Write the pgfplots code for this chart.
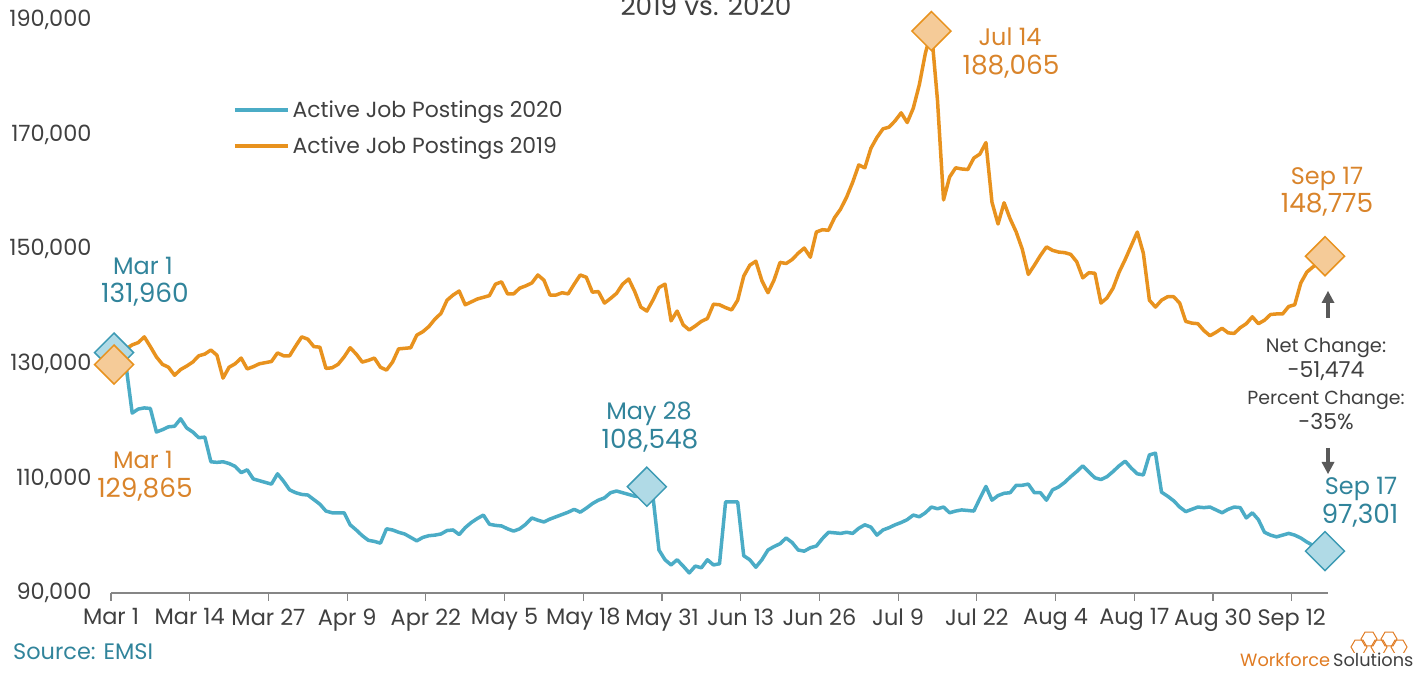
\documentclass[border=0pt]{standalone}
\usepackage{pgfplots}
\pgfplotsset{compat=1.18}
\usepackage{fontspec}
\setmainfont{Poppins}
\definecolor{tealline}{HTML}{4BACC6}
\definecolor{tealtext}{HTML}{31849B}
\definecolor{tealfill}{HTML}{B0DAE6}
\definecolor{tealedge}{HTML}{3C9AB4}
\definecolor{orgline}{HTML}{E8921E}
\definecolor{orgtext}{HTML}{D9842B}
\definecolor{orgfill}{HTML}{F5CB98}
\definecolor{txtgray}{HTML}{404040}
\definecolor{axgray}{HTML}{868686}
\definecolor{arrgray}{HTML}{595959}
\definecolor{logoorg}{HTML}{E07B22}

\begin{document}
\begin{tikzpicture}[x=1bp,y=1bp]
\useasboundingbox (0,0) rectangle (1424,673);
\begin{axis}[
  at={(111bp,80bp)}, anchor=south west,
  width=1217bp, height=573bp, scale only axis,
  xmin=-0.5, xmax=200.5, ymin=90000, ymax=190000,
  clip=false,
  axis x line*=bottom, axis y line*=left,
  y axis line style={draw=none},
  x axis line style={draw=axgray, line width=1.2bp},
  xtick={-0.5,12.5,25.5,38.5,51.5,64.5,77.5,90.5,103.5,116.5,129.5,142.5,155.5,168.5,181.5,194.5},
  xticklabels={Mar 1,Mar 14,Mar 27,Apr 9,Apr 22,May 5,May 18,May 31,Jun 13,Jun 26,Jul 9,Jul 22,Aug 4,Aug 17,Aug 30,Sep 12},
  ytick={90000,110000,130000,150000,170000,190000},
  yticklabels={{90,000},{110,000},{130,000},{150,000},{170,000},{190,000}},
  scaled y ticks=false, scaled x ticks=false,
  tick align=outside,
  major tick length=8bp,
  x tick style={draw=axgray, line width=1.2bp},
  y tick style={draw=none},
  tick label style={font=\fontsize{22.5}{26}\selectfont, text=txtgray},
  yticklabel style={xshift=-8bp},
  xticklabel style={yshift=-4bp},
  legend style={at={(0.1002,0.859)}, anchor=north west, draw=none, fill=none,
    font=\fontsize{22}{26}\selectfont, text=txtgray, inner sep=0pt, row sep=18bp,
    nodes={inner xsep=3bp, inner ysep=0bp},
    /tikz/every even column/.append style={column sep=0bp}},
  legend cell align=left,
  legend image code/.code={\draw[#1, line width=3.5bp] (0bp,0bp) -- (53bp,0bp);},
]
\addplot[tealline, line width=3.5bp, line join=round] coordinates {
(0,131960)(1,130800)(2,129500)(3,121400)(4,122100)(5,122300)(6,122200)(7,118100)(8,118500)(9,119000)
(10,119100)(11,120400)(12,118800)(13,118100)(14,117100)(15,117200)(16,112900)(17,112800)(18,112900)(19,112600)
(20,112100)(21,111000)(22,111500)(23,109900)(24,109600)(25,109300)(26,109000)(27,110800)(28,109500)(29,108000)
(30,107500)(31,107200)(32,107100)(33,106300)(34,105500)(35,104300)(36,104000)(37,104000)(38,104000)(39,101900)
(40,101000)(41,100000)(42,99200)(43,99000)(44,98700)(45,101200)(46,101000)(47,100600)(48,100300)(49,99700)
(50,99100)(51,99700)(52,100000)(53,100100)(54,100300)(55,100900)(56,101000)(57,100200)(58,101400)(59,102300)
(60,103000)(61,103600)(62,102000)(63,101800)(64,101700)(65,101200)(66,100800)(67,101200)(68,102000)(69,103100)
(70,102700)(71,102400)(72,102900)(73,103300)(74,103700)(75,104100)(76,104600)(77,104100)(78,104800)(79,105600)
(80,106200)(81,106600)(82,107500)(83,107800)(84,107500)(85,107200)(86,106900)(87,106800)(88,108548)(89,106900)
(90,97500)(91,95800)(92,94900)(93,95800)(94,94700)(95,93500)(96,94700)(97,94400)(98,95800)(99,94900)
(100,95100)(101,105900)(102,105900)(103,105900)(104,96500)(105,95800)(106,94500)(107,95800)(108,97500)(109,98100)
(110,98600)(111,99600)(112,98800)(113,97500)(114,97300)(115,97900)(116,98200)(117,99500)(118,100600)(119,100500)
(120,100400)(121,100600)(122,100400)(123,101300)(124,101900)(125,101500)(126,100100)(127,101000)(128,101400)(129,101900)
(130,102300)(131,102800)(132,103600)(133,103300)(134,104000)(135,105000)(136,104700)(137,105000)(138,104000)(139,104300)
(140,104500)(141,104400)(142,104300)(143,106500)(144,108600)(145,106200)(146,107000)(147,107400)(148,107500)(149,108800)
(150,108800)(151,109000)(152,107500)(153,107500)(154,106200)(155,108000)(156,108500)(157,109300)(158,110300)(159,111200)
(160,112200)(161,111100)(162,110100)(163,109800)(164,110300)(165,111200)(166,112200)(167,113000)(168,111800)(169,110800)
(170,110600)(171,114100)(172,114400)(173,107600)(174,106900)(175,106100)(176,105000)(177,104200)(178,104600)(179,105000)
(180,104900)(181,105000)(182,104500)(183,104000)(184,104600)(185,105000)(186,104900)(187,103100)(188,104000)(189,102800)
(190,100600)(191,100100)(192,99800)(193,100100)(194,100400)(195,100100)(196,99600)(197,98900)(198,98300)(199,97800)
(200,97301)};
\addlegendentry{Active Job Postings 2020}
\addplot[orgline, line width=3.5bp, line join=round] coordinates {
(0,129865)(1,131500)(2,132600)(3,133300)(4,133700)(5,134700)(6,133000)(7,131200)(8,129900)(9,129400)
(10,128000)(11,129000)(12,129600)(13,130300)(14,131400)(15,131700)(16,132400)(17,131500)(18,127500)(19,129400)
(20,130000)(21,131000)(22,129100)(23,129500)(24,130000)(25,130200)(26,130400)(27,131900)(28,131400)(29,131400)
(30,133100)(31,134700)(32,134300)(33,133000)(34,132900)(35,129200)(36,129300)(37,129900)(38,131200)(39,132800)
(40,131700)(41,130300)(42,130600)(43,131000)(44,129400)(45,128900)(46,130300)(47,132600)(48,132700)(49,132800)
(50,135000)(51,135600)(52,136500)(53,137800)(54,138800)(55,141100)(56,142000)(57,142700)(58,140300)(59,140800)
(60,141300)(61,141600)(62,141900)(63,143900)(64,144300)(65,142200)(66,142200)(67,143200)(68,143600)(69,144100)
(70,145500)(71,144600)(72,142000)(73,142000)(74,142400)(75,142200)(76,143900)(77,145500)(78,145100)(79,142500)
(80,142600)(81,140600)(82,141400)(83,142300)(84,143900)(85,144800)(86,142600)(87,139900)(88,139200)(89,141100)
(90,143300)(91,143900)(92,137500)(93,139200)(94,136800)(95,135900)(96,136600)(97,137400)(98,137900)(99,140400)
(100,140300)(101,139800)(102,139400)(103,141100)(104,145300)(105,147200)(106,147900)(107,144500)(108,142400)(109,144600)
(110,147700)(111,147500)(112,148200)(113,149300)(114,150200)(115,148600)(116,153000)(117,153400)(118,153300)(119,155500)
(120,157000)(121,159100)(122,161700)(123,164700)(124,164200)(125,167600)(126,169500)(127,171000)(128,171300)(129,172400)
(130,173800)(131,172100)(132,174600)(133,178700)(134,184200)(135,188065)(136,176000)(137,158600)(138,162600)(139,164200)
(140,164000)(141,163900)(142,165900)(143,166600)(144,168600)(145,158200)(146,154400)(147,158100)(148,155300)(149,153000)
(150,150000)(151,145600)(152,147200)(153,148900)(154,150400)(155,149800)(156,149500)(157,149400)(158,149100)(159,147800)
(160,145000)(161,145900)(162,145800)(163,140600)(164,141500)(165,143200)(166,146000)(167,148200)(168,150600)(169,153000)
(170,149300)(171,141100)(172,139900)(173,141100)(174,141700)(175,141700)(176,140600)(177,137400)(178,137100)(179,137000)
(180,135800)(181,134900)(182,135500)(183,136200)(184,135400)(185,135300)(186,136300)(187,137000)(188,138200)(189,137000)
(190,137600)(191,138600)(192,138700)(193,138700)(194,140000)(195,140300)(196,144100)(197,146000)(198,146900)(199,147600)
(200,148775)};
\addlegendentry{Active Job Postings 2019}
\addplot[forget plot, only marks, mark=square*, mark size=13.8bp,
  mark options={rotate=45, fill=tealfill, draw=tealedge, line width=1.5bp}]
  coordinates {(0,131960)(88,108548)(200,97301)};
\addplot[forget plot, only marks, mark=square*, mark size=13.8bp,
  mark options={rotate=45, fill=orgfill, draw=orgline, line width=1.5bp}]
  coordinates {(0,129865)(135,188065)(200,148775)};
\end{axis}

% title (cut at top)
\node[anchor=base, text=txtgray, font=\fontsize{26.5}{30}\selectfont, inner sep=0pt] at (706,657) {2019 vs. 2020};

% annotations
\begin{scope}[every node/.style={anchor=base, inner sep=0pt}]
\begin{scope}[every node/.append style={font=\fontsize{24}{28}\selectfont}]
\node[text=tealtext] at (143,398) {Mar 1};
\node[text=orgtext] at (143,204) {Mar 1};
\node[text=tealtext] at (649,253) {May 28};
\node[text=orgtext] at (1010,627) {Jul 14};
\node[text=orgtext] at (1327,488) {Sep 17};
\node[text=tealtext] at (1361,178) {Sep 17};
\end{scope}
\begin{scope}[every node/.append style={font=\fontsize{26.5}{30}\selectfont}]
\node[text=tealtext] at (145,370) {131,960};
\node[text=orgtext] at (145,175) {129,865};
\node[text=tealtext] at (650,224) {108,548};
\node[text=orgtext] at (1011,598) {188,065};
\node[text=orgtext] at (1327,460) {148,775};
\node[text=tealtext] at (1360,149) {97,301};
\end{scope}
\end{scope}
\begin{scope}[every node/.style={anchor=base, inner sep=0pt, text=txtgray}]
\node[font=\fontsize{19.5}{24}\selectfont] at (1326,320) {Net Change:};
\node[font=\fontsize{22}{26}\selectfont] at (1326,295) {-51,474};
\node[font=\fontsize{19}{24}\selectfont] at (1326,268) {Percent Change:};
\node[font=\fontsize{22}{26}\selectfont] at (1326,243) {-35\%};
\end{scope}
% arrows
\draw[arrgray, line width=4bp] (1328,355) -- (1328,370);
\fill[arrgray] (1321.5,370) -- (1334.5,370) -- (1328,382) -- cycle;
\draw[arrgray, line width=4bp] (1328,225) -- (1328,211);
\fill[arrgray] (1321.5,211) -- (1334.5,211) -- (1328,199) -- cycle;

% source
\node[anchor=base west, inner sep=0pt, text=tealtext, font=\fontsize{22.5}{26}\selectfont] at (13,13) {Source: EMSI};

% logo
\begin{scope}[logoorg, line width=1bp]
\foreach \cx/\cy in {1369/34, 1389/34, 1359/26, 1379/26, 1399/26}{
  \draw[shift={(\cx,\cy)}] (0:8)--(60:8)--(120:8)--(180:8)--(240:8)--(300:8)--cycle;
}
\end{scope}
\fill[white] (1238,4) rectangle (1418,20);
\node[anchor=base west, inner sep=0pt, font=\fontsize{17.8}{20}\selectfont] at (1240,6) {\textcolor{logoorg}{Workforce}\,\textcolor{txtgray}{Solutions}};
\end{tikzpicture}
\end{document}
